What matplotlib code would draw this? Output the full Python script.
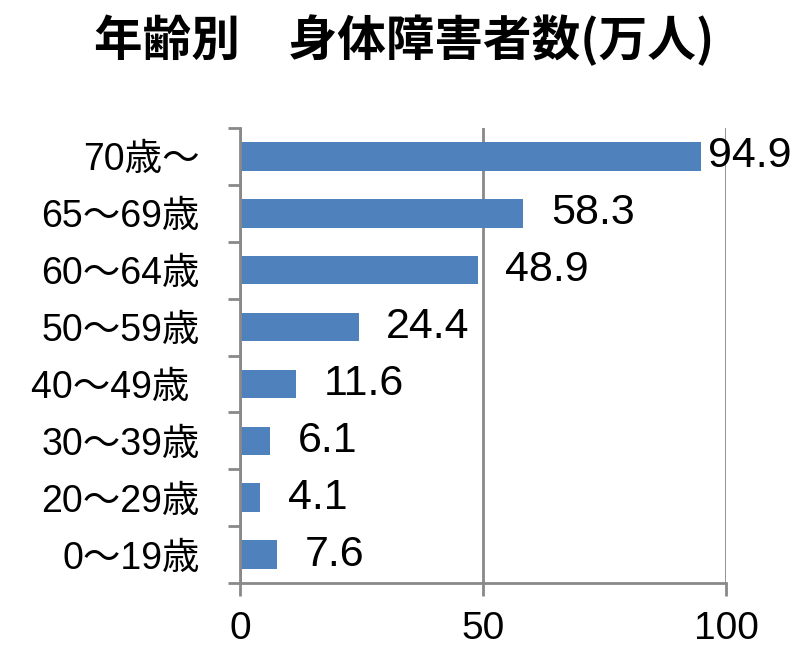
import matplotlib
matplotlib.use("Agg")
import matplotlib.pyplot as plt
import numpy as np

plt.rcParams['font.family'] = ['Liberation Sans', 'Noto Sans CJK JP', 'DejaVu Sans']

# data, top to bottom as shown
age_groups = ["70歳～", "65～69歳", "60～64歳", "50～59歳", "40～49歳 ", "30～39歳", "20～29歳", "0～19歳"]
persons = [94.9, 58.3, 48.9, 24.4, 11.6, 6.1, 4.1, 7.6]
x_ticks = [0, 50, 100]
title = "年齢別\u3000身体障害者数(万人)"

bar_color = "#4F81BD"
axis_gray = "#898989"

fig = plt.figure(figsize=(8.09, 6.64), dpi=100)
ax = fig.add_axes([240 / 809, 1 - 583 / 664, 486 / 809, 455 / 664])

y = np.arange(len(age_groups))
ax.barh(y, persons, height=0.5, color=bar_color, zorder=3)

ax.set_xlim(0, 100)
ax.set_ylim(len(age_groups) - 0.5, -0.5)

ax.set_xticks(x_ticks)
ax.set_xticklabels([str(v) for v in x_ticks], fontsize=28)
ax.set_yticks(y)
ax.set_yticklabels(age_groups, fontsize=27)
ax.set_yticks(np.arange(len(age_groups) + 1) - 0.5, minor=True)

ax.tick_params(axis='x', direction='out', length=9, width=2, color=axis_gray, pad=11)
ax.tick_params(axis='y', which='major', length=0, pad=29)
ax.tick_params(axis='y', which='minor', direction='out', length=9, width=2, color=axis_gray)

ax.grid(axis='x', color=axis_gray, linewidth=2, zorder=0)
for side in ['top', 'right']:
    ax.spines[side].set_visible(False)
for side in ['left', 'bottom']:
    ax.spines[side].set_color(axis_gray)
    ax.spines[side].set_linewidth(2)
    ax.spines[side].set_zorder(4)

# value labels; the longest bar label sits close to the bar end
for i, v in enumerate(persons):
    off = 5 if v > 90 else 20
    ax.annotate(f"{v:.1f}", xy=(v, i), xytext=(off, 0), textcoords='offset points',
                ha='left', va='center', fontsize=31, zorder=5, annotation_clip=False)

fig.text(0.5, 1 - 40 / 664, title, ha='center', va='center', fontsize=35,
         fontweight='bold', family=['Noto Sans CJK JP'])

fig.savefig("out.png", dpi=100)
